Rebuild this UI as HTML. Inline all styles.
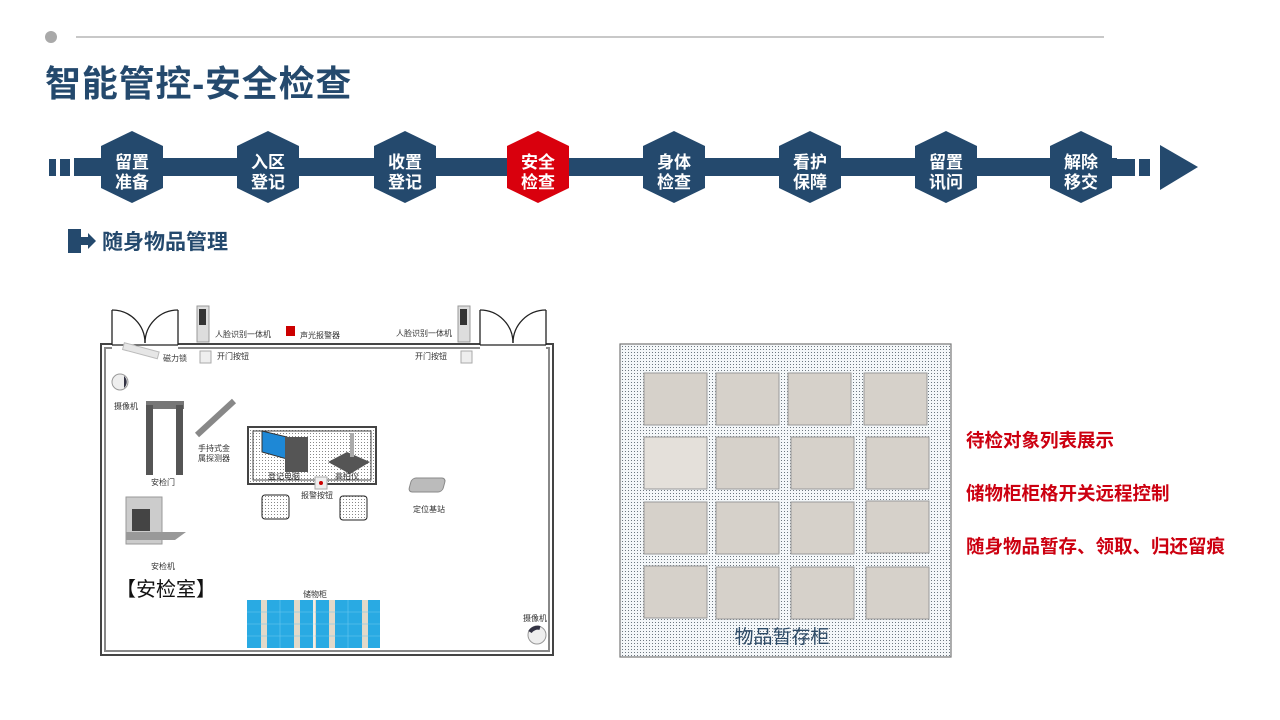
<!DOCTYPE html>
<html><head><meta charset="utf-8"><style>
html,body{margin:0;padding:0;background:#fff;}
body{width:1280px;height:720px;position:relative;overflow:hidden;font-family:"Liberation Sans","Noto Sans CJK SC",sans-serif;}
</style></head><body>
<svg width="1280" height="720" viewBox="0 0 1280 720" xmlns="http://www.w3.org/2000/svg" style="position:absolute;left:0;top:0" font-family="Liberation Sans, Noto Sans CJK SC, sans-serif">
<defs>
<pattern id="dots" width="3" height="3" patternUnits="userSpaceOnUse">
<rect width="3" height="3" fill="#f4f7f9"/><rect x="1" y="1" width="1" height="1" fill="#6d7780"/>
</pattern>
<pattern id="dots2" width="3" height="3" patternUnits="userSpaceOnUse">
<rect width="3" height="3" fill="#fff"/><rect x="1" y="1" width="1" height="1" fill="#888"/>
</pattern>
</defs>
<!-- header -->
<circle cx="51" cy="37" r="6" fill="#a9a9a9"/>
<line x1="76" y1="37" x2="1104" y2="37" stroke="#a6a6a6" stroke-width="1.2"/>
<text x="45" y="96" font-size="36" font-weight="bold" fill="#24496d" letter-spacing="0.8">智能管控-安全检查</text>
<!-- process bar -->
<rect x="49" y="159" width="7" height="17" fill="#24496d"/>
<rect x="60" y="159" width="10" height="17" fill="#24496d"/>
<rect x="74" y="158" width="1043" height="18" fill="#24496d"/>
<rect x="1117" y="158" width="18" height="18" fill="#fff"/>
<rect x="1114" y="159" width="21" height="17" fill="#24496d"/>
<rect x="1139" y="159" width="11" height="17" fill="#24496d"/>
<polygon points="1160,145 1198,167 1160,190" fill="#24496d"/>
<g font-size="17" font-weight="bold" fill="#fff" text-anchor="middle">
<g transform="translate(132,0)"><polygon points="0,131 31,146 31,188 0,203 -31,188 -31,146" fill="#24496d"/><text x="0" y="168">留置</text><text x="0" y="188">准备</text></g>
<g transform="translate(268,0)"><polygon points="0,131 31,146 31,188 0,203 -31,188 -31,146" fill="#24496d"/><text x="0" y="168">入区</text><text x="0" y="188">登记</text></g>
<g transform="translate(405,0)"><polygon points="0,131 31,146 31,188 0,203 -31,188 -31,146" fill="#24496d"/><text x="0" y="168">收置</text><text x="0" y="188">登记</text></g>
<g transform="translate(538,0)"><polygon points="0,131 31,146 31,188 0,203 -31,188 -31,146" fill="#d9000d"/><text x="0" y="168">安全</text><text x="0" y="188">检查</text></g>
<g transform="translate(674,0)"><polygon points="0,131 31,146 31,188 0,203 -31,188 -31,146" fill="#24496d"/><text x="0" y="168">身体</text><text x="0" y="188">检查</text></g>
<g transform="translate(810,0)"><polygon points="0,131 31,146 31,188 0,203 -31,188 -31,146" fill="#24496d"/><text x="0" y="168">看护</text><text x="0" y="188">保障</text></g>
<g transform="translate(946,0)"><polygon points="0,131 31,146 31,188 0,203 -31,188 -31,146" fill="#24496d"/><text x="0" y="168">留置</text><text x="0" y="188">讯问</text></g>
<g transform="translate(1081,0)"><polygon points="0,131 31,146 31,188 0,203 -31,188 -31,146" fill="#24496d"/><text x="0" y="168">解除</text><text x="0" y="188">移交</text></g>
</g>
<!-- subtitle -->
<rect x="68" y="229" width="13" height="24" fill="#24496d"/>
<polygon points="81,237 88,237 88,233 96,241 88,249 88,245 81,245" fill="#24496d"/>
<text x="102" y="249" font-size="21" font-weight="bold" fill="#24496d">随身物品管理</text>
<!-- room -->
<rect x="101" y="344" width="452" height="311" fill="#fff" stroke="#444" stroke-width="2"/>
<rect x="105" y="348" width="444" height="303" fill="none" stroke="#888" stroke-width="2"/>
<rect x="112" y="340" width="66" height="10" fill="#fff"/>
<rect x="480" y="340" width="66" height="10" fill="#fff"/>
<g fill="none" stroke="#222" stroke-width="1.3">
<line x1="112" y1="310" x2="112" y2="345"/><line x1="178" y1="310" x2="178" y2="345"/>
<path d="M112,310 A33,33 0 0 1 145,343"/><path d="M178,310 A33,33 0 0 0 145,343"/>
<line x1="112" y1="345" x2="178" y2="345"/>
<line x1="480" y1="310" x2="480" y2="345"/><line x1="546" y1="310" x2="546" y2="345"/>
<path d="M480,310 A33,33 0 0 1 513,343"/><path d="M546,310 A33,33 0 0 0 513,343"/>
<line x1="480" y1="345" x2="546" y2="345"/>
</g>
<!-- devices -->
<rect x="197" y="306" width="12" height="36" fill="#ddd" stroke="#999"/><rect x="199" y="309" width="7" height="16" fill="#333"/>
<rect x="458" y="306" width="12" height="36" fill="#ddd" stroke="#999"/><rect x="460" y="309" width="7" height="16" fill="#333"/>
<rect x="286" y="326" width="9" height="10" fill="#c00"/>
<rect x="123" y="347" width="36" height="7" fill="#e6e6e6" stroke="#bbb" transform="rotate(15 140 350)"/>
<rect x="200" y="351" width="11" height="12" fill="#eee" stroke="#aaa"/>
<rect x="461" y="351" width="11" height="12" fill="#eee" stroke="#aaa"/>
<circle cx="120" cy="382" r="8" fill="#eee" stroke="#999"/><path d="M124,376 A8,8 0 0 1 124,388" fill="#334"/>
<circle cx="537" cy="635" r="9" fill="#eee" stroke="#999"/><path d="M530,632 A9,9 0 0 1 540,628" stroke="#334" stroke-width="4" fill="none"/>
<rect x="146" y="401" width="38" height="8" fill="#777"/><rect x="146" y="405" width="7" height="70" fill="#555"/><rect x="176" y="405" width="7" height="70" fill="#555"/>
<line x1="197" y1="435" x2="234" y2="401" stroke="#888" stroke-width="6"/>
<rect x="126" y="497" width="36" height="47" fill="#ccc" stroke="#999"/><rect x="132" y="509" width="18" height="22" fill="#444"/>
<polygon points="126,532 186,532 175,540 126,540" fill="#999"/>
<rect x="410" y="478" width="34" height="14" rx="4" fill="#bbb" stroke="#888" transform="skewX(-15) translate(130 0)"/>
<!-- desk -->
<rect x="248" y="427" width="128" height="57" fill="url(#dots2)" stroke="#444" stroke-width="2"/>
<rect x="253" y="431" width="118" height="49" fill="url(#dots2)" stroke="#444" stroke-width="1"/>
<polygon points="262,431 287,437 287,459 262,452" fill="#1e88d6" stroke="#333"/>
<rect x="285" y="437" width="23" height="35" fill="#555"/>
<polygon points="328,462 347,452 370,462 350,474" fill="#555"/>
<rect x="350" y="433" width="4" height="24" fill="#aaa"/>
<rect x="315" y="477" width="12" height="12" fill="#eee" stroke="#aaa"/><circle cx="321" cy="483" r="2" fill="#c00"/>
<rect x="262" y="495" width="27" height="24" rx="3" fill="url(#dots2)" stroke="#222"/>
<rect x="340" y="496" width="27" height="24" rx="3" fill="url(#dots2)" stroke="#222"/>
<!-- lockers -->
<rect x="247" y="600" width="133" height="48" fill="#e2d9c9"/>
<g fill="#29aae3">
<rect x="247" y="600" width="14" height="48"/><rect x="267" y="600" width="27" height="48"/><rect x="300" y="600" width="13" height="48"/><rect x="316" y="600" width="13" height="48"/><rect x="335" y="600" width="27" height="48"/><rect x="368" y="600" width="12" height="48"/>
</g>
<g stroke="#6cc8f0" stroke-width="0.6"><line x1="247" y1="612" x2="380" y2="612"/><line x1="247" y1="624" x2="380" y2="624"/><line x1="247" y1="636" x2="380" y2="636"/><line x1="280" y1="600" x2="280" y2="648"/><line x1="348" y1="600" x2="348" y2="648"/></g>
<line x1="314" y1="600" x2="314" y2="648" stroke="#fff" stroke-width="1"/>
<!-- labels -->
<g font-size="8" fill="#333">
<text x="215" y="337">人脸识别一体机</text><text x="300" y="338">声光报警器</text><text x="396" y="336">人脸识别一体机</text>
<text x="163" y="361">磁力锁</text><text x="217" y="359">开门按钮</text><text x="415" y="359">开门按钮</text>
<text x="114" y="409">摄像机</text><text x="198" y="451">手持式金</text><text x="198" y="461">属探测器</text>
<text x="151" y="485">安检门</text><text x="268" y="479">登记电脑</text><text x="335" y="479">高拍仪</text>
<text x="301" y="498">报警按钮</text><text x="413" y="512">定位基站</text><text x="151" y="569">安检机</text>
<text x="303" y="597">储物柜</text><text x="523" y="621">摄像机</text>
</g>
<text x="116" y="596" font-size="20" fill="#111">【安检室】</text>
<!-- cabinet -->
<rect x="620" y="344" width="331" height="313" fill="url(#dots)" stroke="#777" stroke-width="1.2"/>
<g fill="#d6d1ca" stroke="#999" stroke-width="1">
<rect x="644" y="373" width="63" height="52"/><rect x="716" y="373" width="63" height="52"/><rect x="788" y="373" width="63" height="52"/><rect x="864" y="373" width="63" height="52"/>
<rect x="644" y="437" width="63" height="52" fill="#e4e0da"/><rect x="716" y="437" width="63" height="52"/><rect x="791" y="437" width="63" height="52"/><rect x="866" y="437" width="63" height="52"/>
<rect x="644" y="502" width="63" height="52"/><rect x="716" y="502" width="63" height="52"/><rect x="791" y="502" width="63" height="52"/><rect x="866" y="501" width="63" height="52"/>
<rect x="644" y="566" width="63" height="52"/><rect x="716" y="567" width="63" height="52"/><rect x="791" y="567" width="63" height="52"/><rect x="866" y="567" width="63" height="52"/>
</g>
<text x="782" y="643" font-size="19" fill="#2c4a66" text-anchor="middle">物品暂存柜</text>
<!-- red list -->
<g font-size="18.5" font-weight="bold" fill="#cc0010">
<text x="966" y="447">待检对象列表展示</text>
<text x="966" y="500">储物柜柜格开关远程控制</text>
<text x="966" y="553">随身物品暂存、领取、归还留痕</text>
</g>
</svg>
</body></html>
